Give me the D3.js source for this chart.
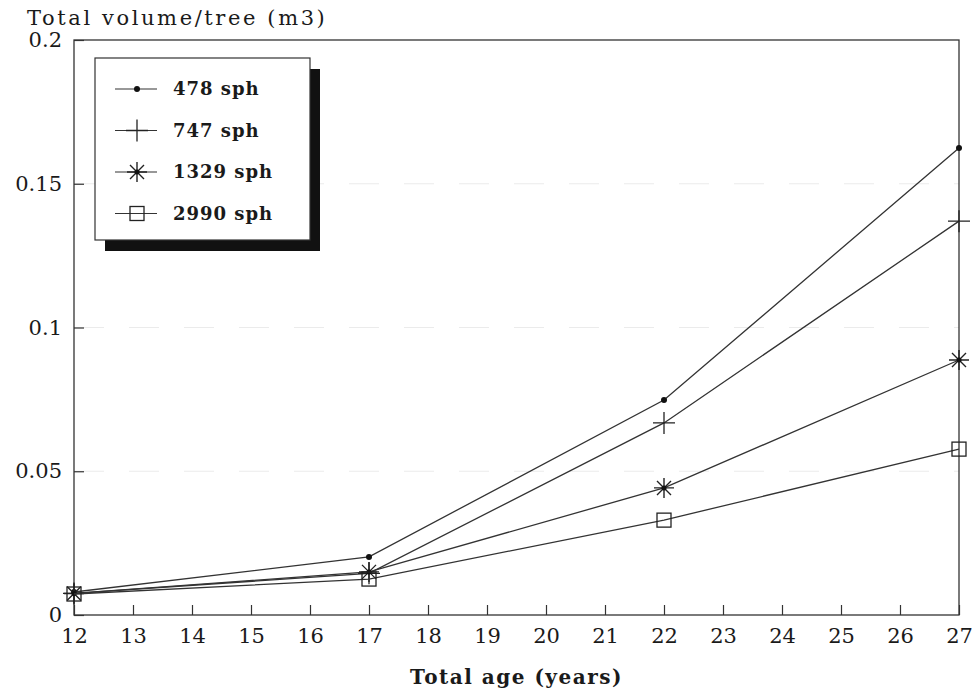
<!DOCTYPE html>
<html>
<head>
<meta charset="utf-8">
<script src="https://cdn.jsdelivr.net/npm/d3@7"></script>
<style>
  body { margin: 0; background: #fff; }
  text { font-family: "DejaVu Serif", "Liberation Serif", serif; fill: #1a1a1a; }
</style>
</head>
<body>
<svg width="977" height="696"></svg>
<script>
var ages = [12, 17, 22, 27]
var series = ['478 sph', '747 sph', '1329 sph', '2990 sph']
var symbols = ['dot', 'plus', 'star', 'square']
var v478 = [0.0080, 0.0202, 0.0748, 0.1624]
var v747 = [0.0075, 0.0145, 0.0668, 0.1370]
var v1329 = [0.0075, 0.0150, 0.0442, 0.0887]
var v2990 = [0.0073, 0.0125, 0.0330, 0.0577]
var xTicks = d3.range(12, 28)
var yTicks = [0, 0.05, 0.1, 0.15, 0.2]
var yTickLabels = ['0', '0.05', '0.1', '0.15', '0.2']

var values = [v478, v747, v1329, v2990]

var svg = d3.select('svg')
var plotL = 74, plotR = 959, plotT = 40, plotB = 615

var x = d3.scaleLinear().domain([12, 27]).range([plotL, plotR])
var y = d3.scaleLinear().domain([0, 0.2]).range([plotB, plotT])

// faint gridlines
svg.selectAll('.grid')
    .data(yTicks.slice(1, 4))
    .enter()
    .append('line')
    .attr('x1', plotL).attr('x2', plotR)
    .attr('y1', function (d) { return y(d) })
    .attr('y2', function (d) { return y(d) })
    .attr('stroke', '#ebebeb')
    .attr('stroke-dasharray', '30,25')

// frame
svg.append('rect')
    .attr('x', plotL).attr('y', plotT)
    .attr('width', plotR - plotL).attr('height', plotB - plotT)
    .attr('fill', 'none').attr('stroke', '#333').attr('stroke-width', 1.3)

var xAxis = d3.axisBottom(x).tickValues(xTicks).tickSizeInner(-10).tickSizeOuter(0).tickPadding(13)
var gx = svg.append('g').attr('transform', 'translate(0,' + plotB + ')').call(xAxis)
gx.select('.domain').remove()
gx.selectAll('line').attr('stroke', '#333').attr('stroke-width', 1.2)
gx.selectAll('text').attr('font-size', 21).attr('fill', '#1a1a1a')

var yAxis = d3.axisLeft(y).tickValues(yTicks).tickSizeInner(-10).tickSizeOuter(0).tickPadding(12)
    .tickFormat(function (d, i) { return yTickLabels[i] })
var gy = svg.append('g').attr('transform', 'translate(' + plotL + ',0)').call(yAxis)
gy.select('.domain').remove()
gy.selectAll('line').attr('stroke', '#333').attr('stroke-width', 1.2)
gy.selectAll('text').attr('font-size', 21).attr('fill', '#1a1a1a')

svg.append('text')
    .attr('x', 27).attr('y', 25)
    .attr('font-size', 21).attr('letter-spacing', 2.6)
    .text('Total volume/tree (m3)')

svg.append('text')
    .attr('x', (plotL + plotR) / 2).attr('y', 684)
    .attr('text-anchor', 'middle')
    .attr('font-size', 20).attr('font-weight', 'bold').attr('letter-spacing', 1.5)
    .text('Total age (years)')

function drawSymbol(g, type) {
  if (type === 'dot') {
    g.append('circle').attr('r', 3).attr('fill', '#111')
  } else if (type === 'plus') {
    g.append('path').attr('d', 'M-11,0H11M0,-11V11').attr('stroke', '#222').attr('stroke-width', 1.3)
  } else if (type === 'star') {
    g.append('path')
        .attr('d', 'M-10,0H10M0,-10V10M-7,-7L7,7M-7,7L7,-7')
        .attr('stroke', '#222').attr('stroke-width', 1.4)
    g.append('circle').attr('r', 2.5).attr('fill', '#111')
  } else {
    g.append('rect').attr('x', -7).attr('y', -7).attr('width', 14).attr('height', 14)
        .attr('fill', 'none').attr('stroke', '#222').attr('stroke-width', 1.3)
  }
}

var line = d3.line()
    .x(function (d, i) { return x(ages[i]) })
    .y(function (d) { return y(d) })

var groups = svg.selectAll('.series')
    .data(values)
    .enter()
    .append('g')

groups.append('path')
    .attr('d', function (d) { return line(d) })
    .attr('fill', 'none')
    .attr('stroke', '#333')
    .attr('stroke-width', 1.3)

groups.each(function (vals, si) {
  var g = d3.select(this)
  vals.forEach(function (v, i) {
    var m = g.append('g').attr('transform', 'translate(' + x(ages[i]) + ',' + y(v) + ')')
    drawSymbol(m, symbols[si])
  })
})

// legend
var lx = 95, ly = 58, lw = 215, lh = 182
svg.append('rect').attr('x', lx + 10).attr('y', ly + 11).attr('width', lw).attr('height', lh).attr('fill', '#111')
svg.append('rect').attr('x', lx).attr('y', ly).attr('width', lw).attr('height', lh)
    .attr('fill', '#fff').attr('stroke', '#333').attr('stroke-width', 1.2)

var legend = svg.selectAll('.leg')
    .data(series)
    .enter()
    .append('g')
    .attr('transform', function (d, i) { return 'translate(' + (lx + 42) + ',' + (ly + 31 + i * 41.5) + ')' })

legend.append('line').attr('x1', -22).attr('x2', 20).attr('stroke', '#333').attr('stroke-width', 1.2)
legend.each(function (d, i) { drawSymbol(d3.select(this), symbols[i]) })
legend.append('text')
    .attr('x', 36).attr('dy', '0.35em')
    .attr('font-size', 18).attr('font-weight', 'bold').attr('letter-spacing', 1)
    .text(function (d) { return d })
</script>
</body>
</html>
